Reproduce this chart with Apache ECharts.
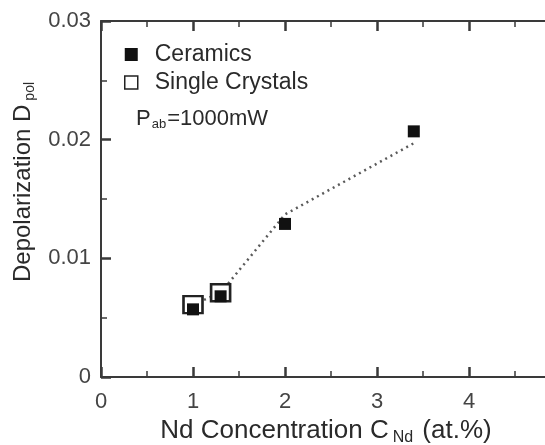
<!DOCTYPE html>
<html><head><meta charset="utf-8">
<script src="https://cdn.jsdelivr.net/npm/echarts@6/dist/echarts.min.js"></script>
<style>html,body{margin:0;padding:0;background:#fff}#c{width:545px;height:445px}</style>
</head><body><div id="c"></div>
<script>
// Data
const ceramicsX = [1.0, 1.3, 2.0, 3.4];
const ceramicsY = [0.0057, 0.0068, 0.0129, 0.0207];
const crystalsX = [1.0, 1.3];
const crystalsY = [0.0061, 0.0071];
const fitX = [1.0, 1.3, 2.0, 3.4];
const fitY = [0.0061, 0.0071, 0.0137, 0.0197];
const xTicks = [0, 1, 2, 3, 4, 5];
const yTicks = [0, 0.01, 0.02, 0.03];
const seriesNames = ['Ceramics', 'Single Crystals'];

const zip = (xs, ys) => xs.map((x, i) => [x, ys[i]]);
const FONT = 'Liberation Sans, Arial, sans-serif';
const TXT = '#2a2a2a';
const AX = '#3a3a3a';

const chart = echarts.init(document.getElementById('c'), null, {renderer: 'canvas'});
function axisCommon() {
  return {
    axisLine: {show: true, onZero: false, lineStyle: {color: AX, width: 2}},
    axisTick: {show: true, inside: true, length: 10, lineStyle: {color: AX, width: 2.5}},
    minorTick: {show: true, splitNumber: 2, length: 6, lineStyle: {color: AX, width: 1.5}},
    splitLine: {show: false}
  };
}
chart.setOption({
  animation: false,
  backgroundColor: '#fff',
  grid: {left: 101, top: 21, height: 356, width: 460, containLabel: false, outerBoundsMode: 'none'},
  title: {
    text: '{p|P}{s|ab}{p|=1000mW}',
    left: 131, top: 101,
    textStyle: {rich: {
      p: {fontFamily: FONT, fontSize: 22, fontWeight: 'normal', color: TXT},
      s: {fontFamily: FONT, fontSize: 13, fontWeight: 'normal', color: TXT, padding: [12, 1, 0, 1]}
    }}
  },
  legend: {
    orient: 'vertical', left: 119, top: 38, itemGap: 5,
    itemWidth: 13, itemHeight: 13,
    data: [
      {name: seriesNames[0], icon: 'rect', itemStyle: {color: '#111', borderWidth: 0}},
      {name: seriesNames[1], icon: 'rect', itemStyle: {color: '#fff', borderColor: '#222', borderWidth: 1.5}}
    ],
    textStyle: {fontFamily: FONT, fontSize: 23, color: TXT, padding: [0, 0, 0, 12]}
  },
  xAxis: [Object.assign(axisCommon(), {
    type: 'value', min: xTicks[0], max: xTicks[xTicks.length - 1], interval: 1,
    position: 'bottom',
    axisLabel: {fontFamily: FONT, fontSize: 22, color: '#444', margin: 14,
      formatter: v => (xTicks.indexOf(v) >= 0 && v < 5) ? String(v) : ''},
    name: '{t|Nd Concentration C}{s|Nd}{t| (at.%)}',
    nameLocation: 'middle', nameGap: 25,
    nameTextStyle: {padding: [0, 10, 0, 0], rich: {
      t: {fontFamily: FONT, fontSize: 26, color: TXT},
      s: {fontFamily: FONT, fontSize: 16, color: TXT, padding: [14, 2, 0, 4]}
    }}
  }), Object.assign(axisCommon(), {
    type: 'value', min: xTicks[0], max: xTicks[xTicks.length - 1], interval: 1,
    position: 'top',
    axisLabel: {show: false}
  })],
  yAxis: [Object.assign(axisCommon(), {
    type: 'value', min: yTicks[0], max: yTicks[yTicks.length - 1], interval: 0.01,
    position: 'left',
    axisLabel: {fontFamily: FONT, fontSize: 22, color: '#444', margin: 10,
      formatter: v => v === 0 ? '0' : v.toFixed(2)},
    name: '{t|Depolarization D}{s|pol}',
    nameLocation: 'middle', nameGap: 64, nameRotate: 90,
    nameTextStyle: {padding: [0, 0, 0, 34], rich: {
      t: {fontFamily: FONT, fontSize: 24, color: TXT},
      s: {fontFamily: FONT, fontSize: 14, color: TXT, padding: [14, 0, 0, 4]}
    }}
  }), Object.assign(axisCommon(), {
    type: 'value', min: yTicks[0], max: yTicks[yTicks.length - 1], interval: 0.01,
    position: 'right',
    axisLabel: {show: false}
  })],
  series: [{
    name: 'fit', type: 'line', data: zip(fitX, fitY),
    symbol: 'none', silent: true,
    lineStyle: {color: '#5a5a5a', width: 2.5, type: [2, 4]}, z: 1
  }, {
    name: seriesNames[1], type: 'scatter', data: zip(crystalsX, crystalsY),
    symbol: 'rect', symbolSize: [19, 17],
    itemStyle: {color: '#fff', borderColor: '#222', borderWidth: 2.5, opacity: 1}, z: 2
  }, {
    name: seriesNames[0], type: 'scatter', data: zip(ceramicsX, ceramicsY),
    symbol: 'rect', symbolSize: [12, 12],
    itemStyle: {color: '#111', opacity: 1}, z: 3
  }]
});
</script></body></html>
